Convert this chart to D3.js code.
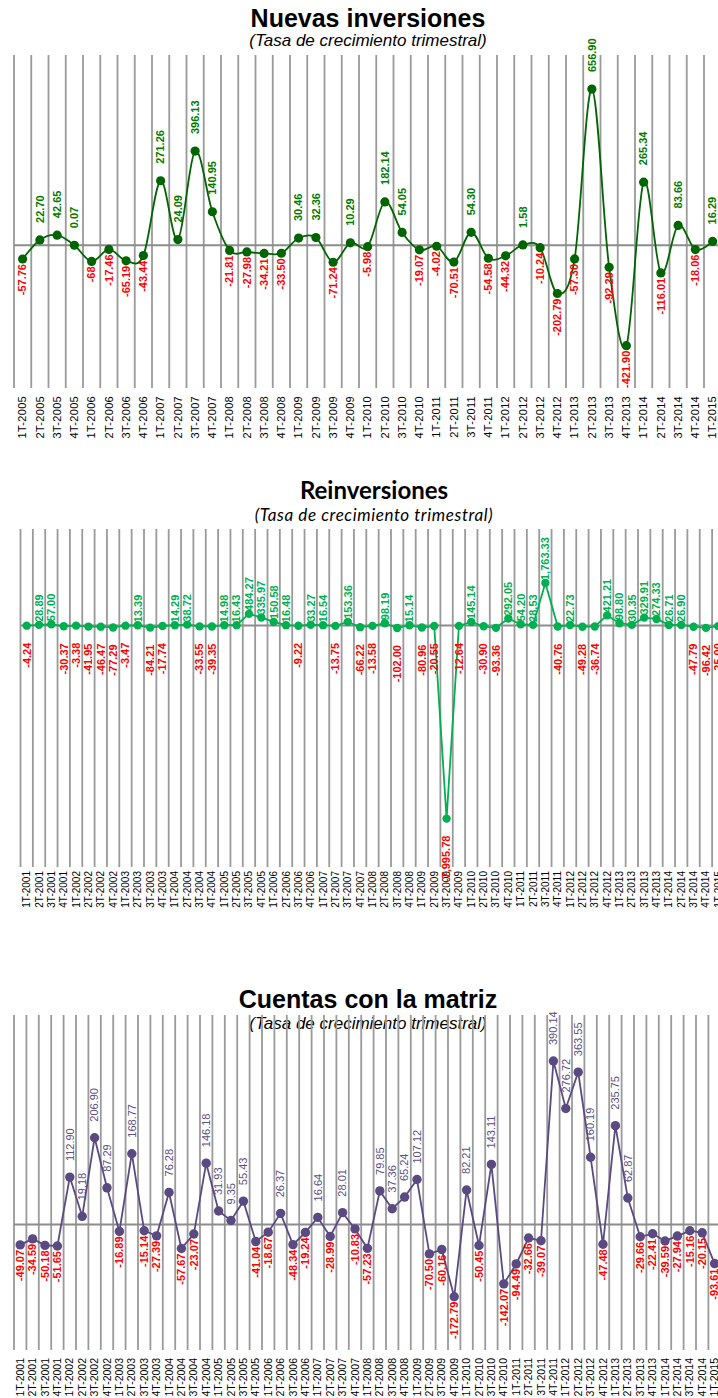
<!DOCTYPE html>
<html>
<head>
<meta charset="utf-8">
<script src="https://cdn.jsdelivr.net/npm/d3@7/dist/d3.min.js"></script>
<style>
  body { margin: 0; background: #fff; }
</style>
</head>
<body>
<script>
// data
const nuevasCats = ["1T-2005","2T-2005","3T-2005","4T-2005","1T-2006","2T-2006","3T-2006","4T-2006",
  "1T-2007","2T-2007","3T-2007","4T-2007","1T-2008","2T-2008","3T-2008","4T-2008",
  "1T-2009","2T-2009","3T-2009","4T-2009","1T-2010","2T-2010","3T-2010","4T-2010",
  "1T-2011","2T-2011","3T-2011","4T-2011","1T-2012","2T-2012","3T-2012","4T-2012",
  "1T-2013","2T-2013","3T-2013","4T-2013","1T-2014","2T-2014","3T-2014","4T-2014","1T-2015"];
const nuevasVals = [-57.76, 22.70, 42.65, 0.07, -68, -17.46, -65.19, -43.44,
  271.26, 24.09, 396.13, 140.95, -21.81, -27.98, -34.21, -33.50,
  30.46, 32.36, -71.24, 10.29, -5.98, 182.14, 54.05, -19.07,
  -4.02, -70.51, 54.30, -54.58, -44.32, 1.58, -10.24, -202.79,
  -57.30, 656.90, -92.29, -421.90, 265.34, -116.01, 83.66, -18.06, 16.29];

const quarters01 = ["1T-2001","2T-2001","3T-2001","4T-2001","1T-2002","2T-2002","3T-2002","4T-2002",
  "1T-2003","2T-2003","3T-2003","4T-2003","1T-2004","2T-2004","3T-2004","4T-2004",
  "1T-2005","2T-2005","3T-2005","4T-2005","1T-2006","2T-2006","3T-2006","4T-2006",
  "1T-2007","2T-2007","3T-2007","4T-2007","1T-2008","2T-2008","3T-2008","4T-2008",
  "1T-2009","2T-2009","3T-2009","4T-2009","1T-2010","2T-2010","3T-2010","4T-2010",
  "1T-2011","2T-2011","3T-2011","4T-2011","1T-2012","2T-2012","3T-2012","4T-2012",
  "1T-2013","2T-2013","3T-2013","4T-2013","1T-2014","2T-2014","3T-2014","4T-2014","1T-2015"];

const reinvVals = [-4.24, 28.89, 57.00, -30.37, -3.38, -41.95, -46.47, -77.29,
  -3.47, 13.39, -84.21, -17.74, 14.29, 38.72, -33.55, -39.35,
  14.98, 16.43, 484.27, 335.97, 150.58, 16.48, -9.22, 33.27,
  16.54, -13.75, 153.36, -66.22, -13.58, 98.19, -102.00, 15.14,
  -80.96, -20.55, -7995.78, -12.64, 145.14, -30.90, -93.36, 292.05,
  54.20, 28.53, 1763.33, -40.76, 22.73, -49.28, -36.74, 421.21,
  98.80, 30.35, 329.91, 274.33, 26.71, 26.90, -47.79, -96.42, -25.00];

const cuentasVals = [-49.07, -34.59, -50.18, -51.65, 112.90, 19.18, 206.90, 87.29,
  -16.89, 168.77, -15.14, -27.39, 76.28, -57.67, -23.07, 146.18,
  31.93, 9.35, 55.43, -41.04, -18.67, 26.37, -48.34, -19.24,
  16.64, -28.99, 28.01, -10.83, -57.23, 79.85, 37.36, 65.24,
  107.12, -70.50, -60.16, -172.79, 82.21, -50.45, 143.11, -142.07,
  -94.49, -32.66, -39.07, 390.14, 276.72, 363.55, 160.19, -47.48,
  235.75, 62.87, -29.66, -22.41, -39.59, -27.94, -15.16, -20.15, -93.61];

const W = 718, H = 1398;
const RED = "#ff0000";

const svg = d3.select("body").append("svg")
  .attr("width", W)
  .attr("height", H)
  .style("font-family", "Arial, 'Liberation Sans', sans-serif");

// plain hyphen for negatives, like the source
const locale = d3.formatLocale({decimal: ".", thousands: ",", grouping: [3], currency: ["", ""], minus: "-"});
const fmt2 = locale.format(",.2f");
const fmt0 = locale.format(",");

function drawChart(o) {
  const g = svg.append("g");
  const x = d3.scaleBand().domain(o.cats).range(o.xRange).padding(0);
  const y = d3.scaleLinear().domain(o.yDomain).range(o.yRange);
  const cx = (d, i) => x(o.cats[i]) + x.bandwidth() / 2;
  const top = o.yRange[1], bottom = o.yRange[0];

  // titles
  g.append("text")
    .attr("x", o.titleX).attr("y", o.titleY)
    .attr("text-anchor", "middle")
    .style("font-family", o.titleFont)
    .style("font-size", o.titleSize + "px")
    .style("font-weight", "bold")
    .text(o.title);
  g.append("text")
    .attr("x", o.titleX).attr("y", o.subY)
    .attr("text-anchor", "middle")
    .style("font-family", o.titleFont)
    .style("font-size", o.subSize + "px")
    .style("font-style", "italic")
    .style("letter-spacing", o.subSpacing || 0)
    .text("(Tasa de crecimiento trimestral)");

  // vertical gridlines at category boundaries
  const bounds = o.cats.map(c => x(c)).concat([o.xRange[1]]);
  g.append("g").selectAll("line").data(bounds).join("line")
    .attr("x1", d => d).attr("x2", d => d)
    .attr("y1", top).attr("y2", bottom)
    .attr("stroke", "#9a9a9a").attr("stroke-width", 1.8);

  // zero line
  g.append("line")
    .attr("x1", o.xRange[0]).attr("x2", W)
    .attr("y1", y(0)).attr("y2", y(0))
    .attr("stroke", "#8c8c8c").attr("stroke-width", 2);

  // x axis labels
  const ax = g.append("g")
    .attr("transform", `translate(0,${bottom})`)
    .call(d3.axisBottom(x).tickSize(0).tickPadding(0));
  ax.select(".domain").remove();
  ax.selectAll("text")
    .attr("transform", "rotate(-90)")
    .attr("x", -o.axisGap).attr("y", 0).attr("dy", "0.35em")
    .style("text-anchor", "end")
    .style("font-family", "Arial, 'Liberation Sans', sans-serif")
    .style("font-size", o.axisSize + "px")
    .style("letter-spacing", o.axisSpacing || 0)
    .attr("fill", "#000");

  // line
  g.append("path")
    .datum(o.vals)
    .attr("fill", "none")
    .attr("stroke", o.color)
    .attr("stroke-width", 1.8)
    .attr("d", d3.line().x(cx).y(d => y(d)).curve(o.curve));

  const drawLabels = () => {
    g.append("g").selectAll("text").data(o.vals).join("text")
      .attr("transform", (d, i) => `translate(${cx(d, i)},${y(d)}) rotate(-90)`)
      .attr("x", d => d >= 0 ? o.posGap : -o.negGap)
      .attr("dy", "0.35em")
      .attr("text-anchor", d => d >= 0 ? "start" : "end")
      .attr("fill", d => d >= 0 ? o.labelColor : RED)
      .style("font-size", o.labelSize + "px")
      .style("font-weight", d => d >= 0 ? o.posWeight : "bold")
      .text(o.fmt);
  };
  const drawPoints = () => {
    g.append("g").selectAll("circle").data(o.vals).join("circle")
      .attr("cx", cx).attr("cy", d => y(d)).attr("r", o.r)
      .attr("fill", o.color);
  };
  if (o.labelsBehind) { drawLabels(); drawPoints(); }
  else { drawPoints(); drawLabels(); }
}

drawChart({
  cats: nuevasCats, vals: nuevasVals,
  xRange: [14, 14 + 41 * 17.25], yDomain: [-600, 800], yRange: [388, 55],
  title: "Nuevas inversiones", titleX: 368, titleY: 27, subY: 46,
  titleFont: "Arial, 'Liberation Sans', sans-serif", titleSize: 25, subSize: 17,
  axisGap: 8, axisSize: 11, axisSpacing: "0.3px",
  curve: d3.curveCardinal.tension(0),
  color: "#006400", labelColor: "#007a00", r: 4.6,
  posGap: 17, negGap: 5, labelSize: 11, posWeight: "bold",
  fmt: d => Number.isInteger(d) ? fmt0(d) : fmt2(d)
});

drawChart({
  cats: quarters01, vals: reinvVals,
  xRange: [20.5, 20.5 + 57 * 12.35], yDomain: [-10000, 4000], yRange: [867, 529],
  title: "Reinversiones", titleX: 374, titleY: 499, subY: 521,
  titleFont: "Lato, 'Open Sans', sans-serif", titleSize: 24, subSize: 17, subSpacing: "0.6px",
  axisGap: 4, axisSize: 10,
  curve: d3.curveLinear,
  color: "#00b050", labelColor: "#00b050", r: 4.2,
  posGap: 3, negGap: 17, labelSize: 11, posWeight: "bold", labelsBehind: true,
  fmt: d => fmt2(d)
});

drawChart({
  cats: quarters01, vals: cuentasVals,
  xRange: [14, 14 + 57 * 12.4], yDomain: [-300, 500], yRange: [1350, 1015],
  title: "Cuentas con la matriz", titleX: 368, titleY: 1008, subY: 1029,
  titleFont: "Arial, 'Liberation Sans', sans-serif", titleSize: 25, subSize: 17,
  axisGap: 8, axisSize: 10.5,
  curve: d3.curveLinear,
  color: "#5b4a82", labelColor: "#5b4f82", r: 4.7,
  posGap: 16, negGap: 5, labelSize: 11, posWeight: "normal",
  fmt: d => fmt2(d)
});
</script>
</body>
</html>
